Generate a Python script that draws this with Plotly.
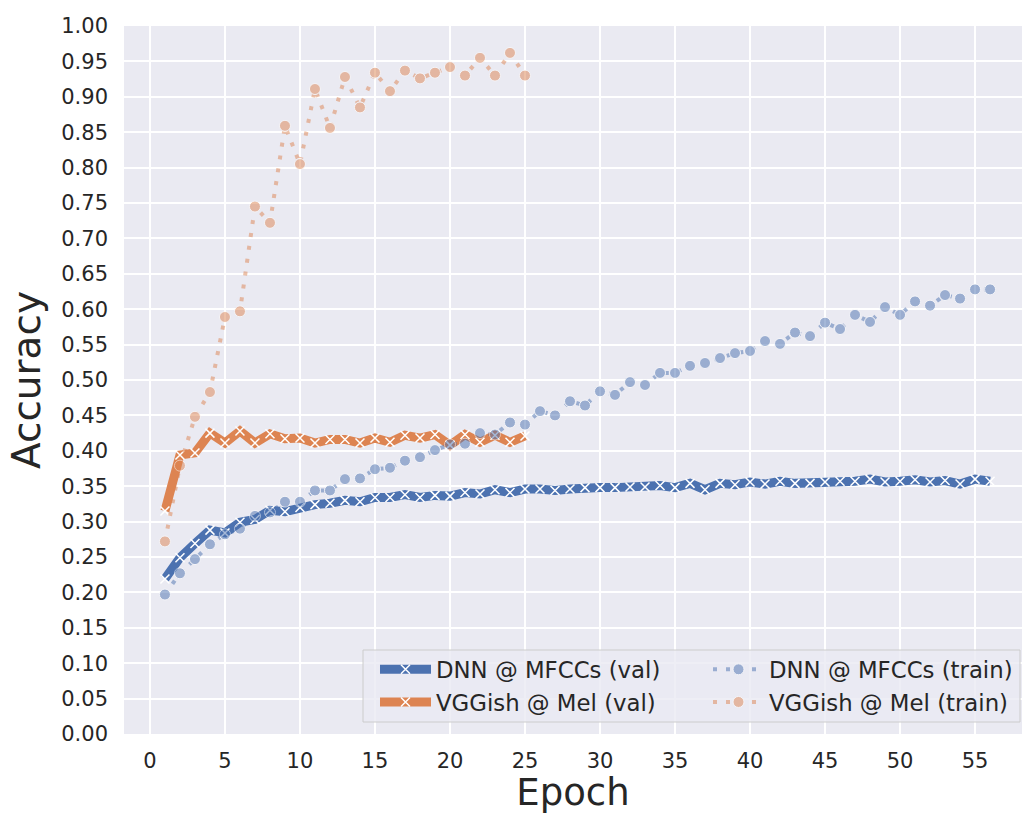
import plotly.graph_objects as go

epochs_dnn = list(range(1, 57))
epochs_vgg = list(range(1, 26))

dnn_val = [0.219, 0.249, 0.269, 0.288, 0.284, 0.299, 0.303, 0.316, 0.314, 0.320,
           0.324, 0.326, 0.330, 0.328, 0.334, 0.334, 0.338, 0.334, 0.337, 0.336,
           0.341, 0.339, 0.345, 0.341, 0.346, 0.346, 0.344, 0.346, 0.348, 0.348,
           0.348, 0.349, 0.349, 0.351, 0.348, 0.354, 0.345, 0.354, 0.352, 0.356,
           0.353, 0.357, 0.354, 0.354, 0.356, 0.357, 0.357, 0.360, 0.356, 0.357,
           0.359, 0.356, 0.358, 0.353, 0.360, 0.357]

dnn_train = [0.197, 0.227, 0.247, 0.268, 0.282, 0.290, 0.308, 0.313, 0.328, 0.328,
             0.344, 0.344, 0.360, 0.361, 0.374, 0.376, 0.386, 0.391, 0.401, 0.409,
             0.410, 0.425, 0.423, 0.440, 0.437, 0.456, 0.450, 0.470, 0.464, 0.484,
             0.479, 0.497, 0.493, 0.510, 0.510, 0.520, 0.524, 0.531, 0.538, 0.541,
             0.555, 0.551, 0.567, 0.562, 0.581, 0.572, 0.592, 0.582, 0.603, 0.592,
             0.611, 0.605, 0.620, 0.615, 0.628, 0.628]

vgg_val = [0.315, 0.394, 0.397, 0.425, 0.411, 0.428, 0.411, 0.424, 0.417, 0.418,
           0.411, 0.416, 0.416, 0.411, 0.418, 0.412, 0.422, 0.418, 0.423, 0.408,
           0.423, 0.412, 0.422, 0.412, 0.421]

vgg_train = [0.272, 0.379, 0.448, 0.483, 0.589, 0.597, 0.745, 0.722, 0.859, 0.805,
             0.911, 0.856, 0.928, 0.885, 0.934, 0.908, 0.937, 0.926, 0.934, 0.942,
             0.930, 0.955, 0.930, 0.962, 0.930]

x_ticks = list(range(0, 56, 5))
y_ticks = [i * 0.05 for i in range(21)]

BLUE = "#4C72B0"
ORANGE = "#DD8452"
TXT = "#262626"
FONT = "DejaVu Sans"

W, H = 1022, 814
ML, MR, MT, MB = 124, 0, 26, 80
PW, PH = W - ML - MR, H - MT - MB


def px_x(p):
    return (p - ML) / PW


def px_y(p):
    return (H - MB - p) / PH


fig = go.Figure()


def val_trace(x, y, name, color, leg, grp):
    return go.Scatter(
        x=x, y=y, name=name, mode="lines+markers",
        line=dict(color=color, width=9),
        marker=dict(symbol="x-thin", size=9, color="white",
                    line=dict(color="white", width=1.5)),
        legend=leg, legendgroup=grp,
    )


def train_trace(x, y, name, color, leg, grp):
    return go.Scatter(
        x=x, y=y, name=name, mode="lines+markers",
        line=dict(color=color, width=4, dash="4px,9px"),
        marker=dict(symbol="circle", size=11, color=color,
                    line=dict(color="white", width=1)),
        opacity=0.5,
        legend=leg, legendgroup=grp,
    )


fig.add_trace(val_trace(epochs_dnn, dnn_val, "DNN @ MFCCs (val)", BLUE, "legend", "a"))
fig.add_trace(val_trace(epochs_vgg, vgg_val, "VGGish @ Mel (val)", ORANGE, "legend", "b"))
fig.add_trace(train_trace(epochs_dnn, dnn_train, "DNN @ MFCCs (train)", BLUE, "legend2", "c"))
fig.add_trace(train_trace(epochs_vgg, vgg_train, "VGGish @ Mel (train)", ORANGE, "legend2", "d"))

leg_common = dict(
    orientation="v",
    yanchor="top",
    bgcolor="rgba(0,0,0,0)",
    borderwidth=0,
    font=dict(family=FONT, size=22.8, color=TXT),
    tracegroupgap=0,
    itemwidth=51,
)

fig.update_layout(
    width=W, height=H,
    margin=dict(l=ML, r=MR, t=MT, b=MB),
    paper_bgcolor="white",
    plot_bgcolor="#EAEAF2",
    font=dict(family=FONT, color=TXT, size=21),
    legend=dict(x=px_x(375), xanchor="left", y=px_y(648), **leg_common),
    legend2=dict(x=px_x(708), xanchor="left", y=px_y(648), **leg_common),
    shapes=[dict(
        type="rect", xref="paper", yref="paper",
        x0=px_x(363), x1=px_x(1020), y0=px_y(722), y1=px_y(650),
        fillcolor="rgba(234,234,242,0.8)",
        line=dict(color="#CCCCCC", width=1),
        layer="above",
    )],
    xaxis=dict(
        range=[-1.73, 58.13],
        tickmode="array", tickvals=x_ticks,
        ticktext=[str(v) for v in x_ticks],
        showgrid=True, gridcolor="white", gridwidth=1.5,
        zeroline=False, showline=False, ticks="",
        ticklabelstandoff=12,
        tickfont=dict(size=21, color=TXT),
        title=dict(text="Epoch", font=dict(size=37, color=TXT), standoff=12),
    ),
    yaxis=dict(
        range=[0, 1],
        tickmode="array", tickvals=y_ticks,
        ticktext=[f"{v:.2f}" for v in y_ticks],
        showgrid=True, gridcolor="white", gridwidth=1.5,
        zeroline=False, showline=False, ticks="",
        ticklabelstandoff=15,
        tickfont=dict(size=21, color=TXT),
        title=dict(text="Accuracy", font=dict(size=39, color=TXT), standoff=8),
    ),
)

fig.write_html("out.html")
